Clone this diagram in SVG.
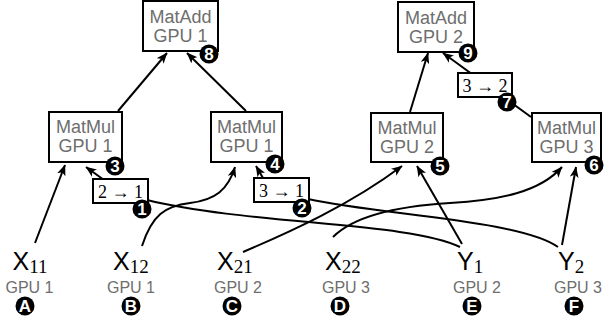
<svg xmlns="http://www.w3.org/2000/svg" width="604" height="321" viewBox="0 0 604 321">
<defs>
<marker id="ah" viewBox="0 0 10 8" markerWidth="11" markerHeight="9" refX="9.5" refY="4" orient="auto" markerUnits="userSpaceOnUse">
<path d="M0,0 L10,4 L0,8 L2.5,4 z" fill="#000"/>
</marker>
<style>
.box{fill:#fff;stroke:#000;stroke-width:2}
.nt{font-family:"Liberation Sans",Arial,sans-serif;font-size:18px;fill:#6e6e6e;text-anchor:middle}
.e{fill:none;stroke:#000;stroke-width:2}
.ea{fill:none;stroke:#000;stroke-width:2;marker-end:url(#ah)}
.lt{font-family:"Liberation Serif","Times New Roman",serif;font-size:18px;fill:#000;text-anchor:middle}
.bc{fill:#000}
.bt{font-family:"Liberation Sans",Arial,sans-serif;font-size:17px;font-weight:bold;fill:#fff;text-anchor:middle}
.var{font-family:"Liberation Sans",Arial,sans-serif;font-size:25px;fill:#000}
.sub{font-family:"Liberation Serif","Times New Roman",serif;font-size:19px}
.gpu{font-family:"Liberation Sans",Arial,sans-serif;font-size:16px;fill:#6e6e6e;text-anchor:middle}
</style>
</defs>
<rect width="604" height="321" fill="#fff"/>
<g id="connectors">
<path class="ea" d="M118,111 L167,53"/>
<path class="ea" d="M246,111 L187,53"/>
<path class="ea" d="M410,112 L428,53"/>
<path class="ea" d="M531,117 L443,53"/>
<path class="ea" d="M35,243 L65,165"/>
<path class="e" d="M460,247 C410,222 250,225 147,200"/>
<path class="ea" d="M104,180 L86,167"/>
<path class="e" d="M558,247 C520,220 380,215 308,199"/>
<path class="ea" d="M263,178 L256,166"/>
<path class="ea" d="M142,246 C152,215 165,206 190,203 S228,190 235,167"/>
<path class="ea" d="M243,252 C290,232 350,205 402,166"/>
<path class="ea" d="M333,237 C355,215 400,206 450,203 C500,200 540,192 562,167"/>
<path class="ea" d="M462,244 L417,166"/>
<path class="ea" d="M562,245 L576,167"/>
</g>
<g id="matadd1"><rect class="box" x="143" y="1" width="75" height="50"/><text class="nt" x="180.5" y="23">MatAdd</text><text class="nt" x="180.5" y="42">GPU 1</text></g>
<g id="matadd2"><rect class="box" x="398" y="2" width="76" height="50"/><text class="nt" x="436" y="24">MatAdd</text><text class="nt" x="436" y="43">GPU 2</text></g>
<g id="matmul1"><rect class="box" x="49" y="112" width="73" height="50"/><text class="nt" x="85.5" y="133">MatMul</text><text class="nt" x="85.5" y="152">GPU 1</text></g>
<g id="matmul2"><rect class="box" x="211" y="112" width="71" height="50"/><text class="nt" x="246.5" y="133">MatMul</text><text class="nt" x="246.5" y="152">GPU 1</text></g>
<g id="matmul3"><rect class="box" x="371" y="113" width="72" height="49"/><text class="nt" x="407" y="134">MatMul</text><text class="nt" x="407" y="153">GPU 2</text></g>
<g id="matmul4"><rect class="box" x="532" y="113" width="69" height="49"/><text class="nt" x="566.5" y="134">MatMul</text><text class="nt" x="566.5" y="153">GPU 3</text></g>
<g id="label21"><rect class="box" x="93" y="179" width="55" height="24"/><text class="lt" x="120.5" y="198">2 → 1</text></g>
<g id="label31"><rect class="box" x="254" y="178" width="55" height="24"/><text class="lt" x="281.5" y="197">3 → 1</text></g>
<g id="label32"><rect class="box" x="458" y="73" width="54" height="24"/><text class="lt" x="485" y="92">3 → 2</text></g>
<g id="x11"><text class="var" x="12.5" y="270">X<tspan class="sub" dy="3">11</tspan></text><text class="gpu" x="29.5" y="293">GPU 1</text></g>
<g id="x12"><text class="var" x="113" y="270">X<tspan class="sub" dy="3">12</tspan></text><text class="gpu" x="131" y="293">GPU 1</text></g>
<g id="x21"><text class="var" x="217" y="270">X<tspan class="sub" dy="3">21</tspan></text><text class="gpu" x="238" y="293">GPU 2</text></g>
<g id="x22"><text class="var" x="325" y="270">X<tspan class="sub" dy="3">22</tspan></text><text class="gpu" x="346" y="293">GPU 3</text></g>
<g id="y1"><text class="var" x="457" y="270">Y<tspan class="sub" dy="3">1</tspan></text><text class="gpu" x="477" y="293">GPU 2</text></g>
<g id="y2"><text class="var" x="558" y="270">Y<tspan class="sub" dy="3">2</tspan></text><text class="gpu" x="578" y="293">GPU 3</text></g>
<g id="badges">
<g id="b1"><circle class="bc" cx="142" cy="209" r="9.5"/><text class="bt" x="142" y="215">1</text></g>
<g id="b2"><circle class="bc" cx="302" cy="208" r="9.5"/><text class="bt" x="302" y="214">2</text></g>
<g id="b3"><circle class="bc" cx="115" cy="166" r="9.5"/><text class="bt" x="115" y="172">3</text></g>
<g id="b4"><circle class="bc" cx="275" cy="164" r="9.5"/><text class="bt" x="275" y="170">4</text></g>
<g id="b5"><circle class="bc" cx="440" cy="166" r="9.5"/><text class="bt" x="440" y="172">5</text></g>
<g id="b6"><circle class="bc" cx="594" cy="165" r="9.5"/><text class="bt" x="594" y="171">6</text></g>
<g id="b7"><circle class="bc" cx="507" cy="102" r="9.5"/><text class="bt" x="507" y="108">7</text></g>
<g id="b8"><circle class="bc" cx="209" cy="54" r="9.5"/><text class="bt" x="209" y="60">8</text></g>
<g id="b9"><circle class="bc" cx="468" cy="53" r="9.5"/><text class="bt" x="468" y="59">9</text></g>
<g id="bA"><circle class="bc" cx="25" cy="306" r="9.5"/><text class="bt" x="25" y="312">A</text></g>
<g id="bB"><circle class="bc" cx="131" cy="306" r="9.5"/><text class="bt" x="131" y="312">B</text></g>
<g id="bC"><circle class="bc" cx="232" cy="306" r="9.5"/><text class="bt" x="232" y="312">C</text></g>
<g id="bD"><circle class="bc" cx="340" cy="306" r="9.5"/><text class="bt" x="340" y="312">D</text></g>
<g id="bE"><circle class="bc" cx="472" cy="306" r="9.5"/><text class="bt" x="472" y="312">E</text></g>
<g id="bF"><circle class="bc" cx="574" cy="306" r="9.5"/><text class="bt" x="574" y="312">F</text></g>
</g>
</svg>
